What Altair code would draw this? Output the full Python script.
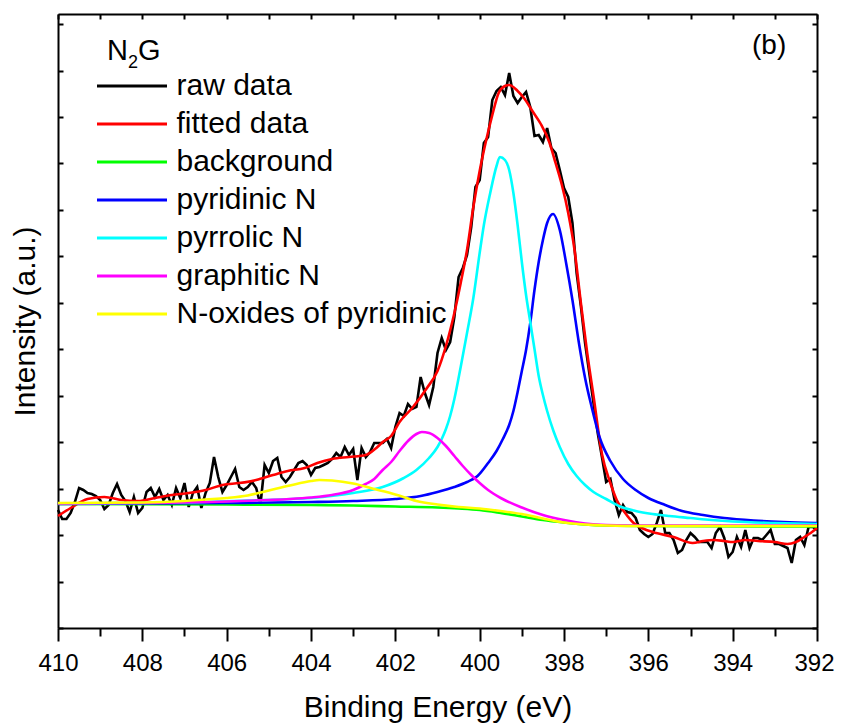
import altair as alt
import pandas as pd

# ---------------- data ----------------
series_names = ["raw data", "fitted data", "background", "pyridinic N",
                "pyrrolic N", "graphitic N", "N-oxides of pyridinic"]
series_colors = ["#000000", "#ff0000", "#00ff00", "#0000ff",
                 "#00ffff", "#ff00ff", "#ffff00"]

raw_energy = [
    410.0, 409.9, 409.8, 409.7, 409.6, 409.5, 409.4, 409.3, 409.2, 409.1,
    409.0, 408.9, 408.8, 408.7, 408.6, 408.5, 408.4, 408.3, 408.2, 408.1,
    408.0, 407.9, 407.8, 407.7, 407.6, 407.5, 407.4, 407.3, 407.2, 407.1,
    407.0, 406.9, 406.8, 406.7, 406.6, 406.5, 406.4, 406.3, 406.2, 406.1,
    406.0, 405.9, 405.8, 405.7, 405.6, 405.5, 405.4, 405.3, 405.2, 405.1,
    405.0, 404.9, 404.8, 404.7, 404.6, 404.5, 404.4, 404.3, 404.2, 404.1,
    404.0, 403.9, 403.8, 403.7, 403.6, 403.5, 403.4, 403.3, 403.2, 403.1,
    403.0, 402.9, 402.8, 402.7, 402.6, 402.5, 402.4, 402.3, 402.2, 402.1,
    402.0, 401.9, 401.8, 401.7, 401.6, 401.5, 401.4, 401.3, 401.2, 401.1,
    401.0, 400.9, 400.8, 400.7, 400.6, 400.5, 400.4, 400.3, 400.2, 400.1,
    400.0, 399.9, 399.8, 399.7, 399.6, 399.5, 399.4, 399.3, 399.2, 399.1,
    399.0, 398.9, 398.8, 398.7, 398.6, 398.5, 398.4, 398.3, 398.2, 398.1,
    398.0, 397.9, 397.8, 397.7, 397.6, 397.5, 397.4, 397.3, 397.2, 397.1,
    397.0, 396.9, 396.8, 396.7, 396.6, 396.5, 396.4, 396.3, 396.2, 396.1,
    396.0, 395.9, 395.8, 395.7, 395.6, 395.5, 395.4, 395.3, 395.2, 395.1,
    395.0, 394.9, 394.8, 394.7, 394.6, 394.5, 394.4, 394.3, 394.2, 394.1,
    394.0, 393.9, 393.8, 393.7, 393.6, 393.5, 393.4, 393.3, 393.2, 393.1,
    393.0, 392.9, 392.8, 392.7, 392.6, 392.5, 392.4, 392.3, 392.2, 392.1,
    392.0]
raw_intensity = [
    118, 109, 109, 115, 126, 140, 138, 135, 134, 132,
    128, 119, 123, 135, 144, 133, 127, 116, 131, 115,
    120, 136, 140, 131, 139, 128, 133, 123, 140, 130,
    145, 121, 135, 141, 120, 135, 145, 171, 151, 136,
    143, 151, 159, 141, 138, 141, 146, 140, 123, 163,
    155, 167, 170, 151, 146, 151, 158, 165, 167, 163,
    153, 160, 161, 163, 165, 169, 175, 171, 181, 173,
    179, 148, 180, 171, 176, 185, 185, 185, 189, 180,
    201, 215, 212, 224, 219, 221, 251, 235, 223, 241,
    275, 290, 278, 286, 311, 351, 360, 373, 401, 441,
    448, 485, 491, 528, 537, 541, 533, 555, 532, 525,
    531, 536, 521, 492, 493, 486, 500, 480, 475, 458,
    440, 431, 405, 355, 322, 285, 255, 225, 195, 171,
    146, 149, 128, 113, 123, 116, 115, 110, 98, 94,
    91, 94, 105, 118, 95, 95, 88, 75, 78, 88,
    95, 91, 86, 86, 86, 80, 95, 101, 90, 71,
    76, 91, 81, 98, 80, 90, 90, 88, 93, 98,
    84, 84, 82, 80, 65, 88, 91, 83, 101, 101,
    98]

fit_energy = [410.0, 409.7, 409.3, 408.9, 408.5, 408.1, 407.7, 407.3, 406.9, 406.5,
              406.1, 405.7, 405.3, 404.9, 404.55, 404.15, 403.85, 403.5, 403.1, 402.7,
              402.45, 402.3, 402.1, 401.9, 401.6, 401.25, 401.0, 400.8, 400.6, 400.45,
              400.3, 400.15, 400.0, 399.85, 399.7, 399.55, 399.4, 399.3, 399.1, 398.95,
              398.75, 398.55, 398.35, 398.2, 398.05, 397.9, 397.75, 397.6, 397.45, 397.3,
              397.1, 396.9, 396.75, 396.55, 396.35, 396.1, 395.9, 395.4, 394.95, 394.7,
              394.45, 394.2, 394.0, 393.7, 393.4, 393.0, 392.7, 392.5, 392.3, 392.15,
              392.0]
fit_intensity = [112, 120, 129, 131, 128, 127, 130, 133, 135, 138,
                 143, 145, 148, 153, 157, 160, 165, 169, 171, 173,
                 180, 186, 192, 206, 220, 240, 257, 282, 315, 345,
                 378, 421, 457, 487, 513, 535, 542, 543, 537, 530,
                 517, 504, 486, 465, 443, 415, 378, 325, 275, 232,
                 174, 145, 128, 115, 105, 99, 96, 91, 85, 87,
                 88, 87, 86, 88, 87, 86, 84, 86, 91, 95,
                 100]

bg_energy = [410, 406, 404, 403, 402, 401, 400.5, 400, 399.5, 399, 398.5, 398, 397.5, 397, 396, 392]
bg_intensity = [124, 123.5, 123, 122.5, 121.5, 120.5, 119.5, 118, 115, 111.5, 108, 105.5, 103.5, 102.5, 102, 101.5]

pyridinic_energy = [410, 406, 404, 403, 402, 401.4, 401.0, 400.6, 400.3, 400.05,
                    399.8, 399.6, 399.45, 399.3, 399.2, 399.1, 399.0, 398.9, 398.8, 398.7,
                    398.6, 398.5, 398.4, 398.26, 398.1, 397.95, 397.8, 397.65, 397.5, 397.35,
                    397.15, 396.9, 396.6, 396.3, 396.0, 395.6, 395.2, 394.7, 394.2, 393.5,
                    392.8, 392]
pyridinic_intensity = [124, 125, 126, 127, 129, 132, 136, 141, 146, 152,
                       165, 177, 189, 203, 217, 236, 257, 278, 305, 338,
                       366, 388, 405, 414, 398, 365, 328, 286, 250, 222,
                       190, 167, 149, 138, 130, 123, 117, 113, 110, 107.5,
                       106, 105]

pyrrolic_energy = [410, 407, 405.5, 404, 403, 402.3, 401.8, 401.5, 401.2, 401.0,
                   400.9, 400.8, 400.7, 400.6, 400.45, 400.3, 400.15, 400.0, 399.9, 399.75,
                   399.6, 399.52, 399.4, 399.3, 399.2, 399.1, 399.0, 398.9, 398.8, 398.7,
                   398.6, 398.5, 398.4, 398.25, 398.1, 397.9, 397.7, 397.5, 397.3, 397.0,
                   396.7, 396.3, 395.9, 395.5, 395.0, 394.5, 394.0, 393.0, 392]
pyrrolic_intensity = [124.5, 125.5, 127.5, 130, 135, 141, 150, 158, 170, 181,
                      189, 199, 212, 229, 261, 295, 330, 375, 403, 435,
                      462, 471, 468, 458, 435, 403, 366, 333, 306, 279,
                      252, 233, 217, 197, 181, 164, 152, 143, 136, 129,
                      122, 117, 114, 112, 110, 108, 106.5, 105, 104]

graphitic_energy = [410, 408, 406, 405, 404.5, 404, 403.5, 403, 402.7, 402.5,
                    402.3, 402.1, 401.9, 401.7, 401.5, 401.37, 401.2, 401.0, 400.8, 400.6,
                    400.4, 400.2, 400.0, 399.8, 399.5, 399.0, 398.5, 398.0, 397.5, 397.0,
                    396.0, 392]
graphitic_intensity = [124.5, 125, 126.5, 128, 129, 130.5, 133, 138, 144, 149,
                       158, 166, 177, 187, 194, 196, 195, 190, 182, 172,
                       162, 153, 145, 138, 130, 120.5, 113, 108, 104.5, 103,
                       102.5, 102.5]

oxide_energy = [410, 408, 407, 406.5, 406, 405.5, 405, 404.5, 404, 403.8,
                403.5, 403, 402.5, 402, 401.5, 401, 400.5, 400, 399.5, 399,
                398.5, 398, 397.5, 397, 396, 392]
oxide_intensity = [125, 125.5, 127, 128.5, 130, 132.5, 137.5, 142.5, 147, 148,
                   147.5, 144.5, 139, 133.5, 127, 123.5, 121, 119.5, 117, 114,
                   109.5, 105.5, 103.5, 102.5, 102, 102]

x_ticks = [410, 409, 408, 407, 406, 405, 404, 403, 402, 401,
           400, 399, 398, 397, 396, 395, 394, 393, 392]
y_ticks = [0, 46.5, 92.9, 139.4, 185.8, 232.3, 278.8, 325.2, 371.7,
           418.1, 464.6, 511.1, 557.5, 604.0]

# ---------------- tables ----------------
raw_df = pd.DataFrame({"E": raw_energy, "I": raw_intensity, "series": series_names[0]})
smooth_parts = [
    (series_names[1], fit_energy, fit_intensity),
    (series_names[2], bg_energy, bg_intensity),
    (series_names[3], pyridinic_energy, pyridinic_intensity),
    (series_names[4], pyrrolic_energy, pyrrolic_intensity),
    (series_names[5], graphitic_energy, graphitic_intensity),
    (series_names[6], oxide_energy, oxide_intensity),
]
smooth_df = pd.concat(
    [pd.DataFrame({"E": e, "I": i, "series": n}) for n, e, i in smooth_parts],
    ignore_index=True)

FONT = "Liberation Sans"

x_scale = alt.Scale(domain=[392, 410], reverse=True, nice=False, zero=False)
y_scale = alt.Scale(domain=[0, 614], nice=False, zero=False)

legend = alt.Legend(
    orient="none", legendX=39, legendY=56.5, title=None, padding=0,
    symbolType="M-2.5,0H2.5", symbolSize=784, symbolStrokeWidth=3,
    symbolOffset=19.5, labelOffset=29, labelFontSize=30, labelFont=FONT,
    labelColor="black", labelLimit=500, rowPadding=7,
)
color = alt.Color("series:N", scale=alt.Scale(domain=series_names, range=series_colors),
                  legend=legend)

axis_common = dict(grid=False, domainColor="black", domainWidth=2,
                   tickColor="black", tickWidth=2)

x_bottom = alt.Axis(
    orient="bottom", values=x_ticks,
    labelExpr="datum.value % 2 === 0 ? datum.label : ''",
    tickSize={"condition": {"test": "datum.value % 2 === 0", "value": 13}, "value": 8},
    labelOffset={"condition": {"test": "datum.value === 392", "value": -3}, "value": 0},
    labelFontSize=24, labelFont=FONT, labelColor="black", labelPadding=10,
    labelOverlap=False, labelFlush=False,
    title="Binding Energy (eV)", titleFontSize=30, titleFont=FONT,
    titleFontWeight="normal", titleColor="black", titlePadding=17,
    **axis_common)
x_top = alt.Axis(orient="top", values=x_ticks, labels=False,
                 tickSize={"expr": "-5"}, title=None, **axis_common)
y_left = alt.Axis(orient="left", values=y_ticks, labels=False,
                  tickSize={"expr": "-5"},
                  title="Intensity (a.u.)", titleFontSize=30, titleFont=FONT,
                  titleFontWeight="normal", titleColor="black", titlePadding=17,
                  **axis_common)
y_right = alt.Axis(orient="right", values=y_ticks, labels=False,
                   tickSize={"expr": "-5"}, title=None, **axis_common)

raw_layer = alt.Chart(raw_df).mark_line(strokeWidth=2.6).encode(
    x=alt.X("E:Q", scale=x_scale, axis=x_bottom),
    y=alt.Y("I:Q", scale=y_scale, axis=y_left),
    color=color,
)
smooth_layer = alt.Chart(smooth_df).mark_line(strokeWidth=2.6, interpolate="monotone").encode(
    x=alt.X("E:Q", scale=x_scale, axis=x_top),
    y=alt.Y("I:Q", scale=y_scale, axis=y_right),
    color=color,
)

ann = pd.DataFrame({"k": [0]})
def label(txt, x, y, size):
    return alt.Chart(ann).mark_text(
        text=txt, font=FONT, fontSize=size, align="left", baseline="alphabetic",
        color="black").encode(x=alt.value(x), y=alt.value(y))

chart = alt.layer(
    raw_layer, smooth_layer,
    label("N", 49, 46, 29), label("2", 70, 54, 18), label("G", 80, 46, 29),
    label("(b)", 694, 40, 28),
).properties(
    width=759, height=614,
    autosize=alt.AutoSizeParams(type="none"),
    padding={"left": 50, "top": 6, "right": 18, "bottom": 97},
).configure_view(strokeWidth=0).configure(background="white")

chart.save("out.html", embed_options={"renderer": "svg", "actions": False})
